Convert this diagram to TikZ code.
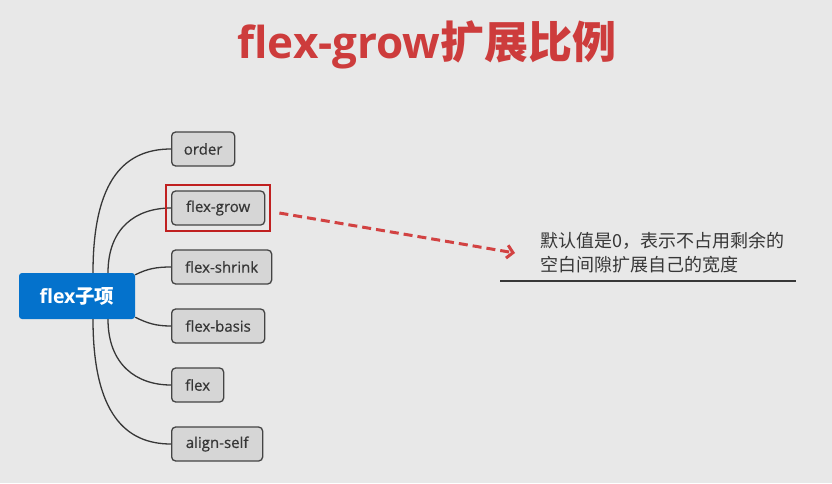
\documentclass[tikz,border=0pt]{standalone}
\usepackage{fontspec}
\setmainfont{Open Sans}
\newfontfamily\cjk{Noto Sans CJK SC}
\newfontfamily\itemfont[FakeBold=0.6]{Open Sans}
\usetikzlibrary{fit,arrows.meta}
\definecolor{pagegray}{RGB}{232,232,232}
\definecolor{titlered}{RGB}{205,60,60}
\definecolor{hintred}{RGB}{210,66,66}
\definecolor{framered}{RGB}{192,32,32}
\definecolor{rootblue}{RGB}{4,114,204}
\definecolor{itemgray}{RGB}{214,214,214}
\definecolor{itemline}{RGB}{68,68,68}
\definecolor{inktext}{RGB}{55,55,55}
\tikzset{
	rootbox/.style={fill=rootblue, rounded corners=3pt, minimum width=116pt, minimum height=46pt, inner sep=0pt, text=white, font=\fontsize{19.5pt}{22pt}\selectfont\bfseries},
	itembox/.style={draw=itemline, fill=itemgray, line width=1.3pt, rounded corners=4pt, minimum height=34pt, inner sep=0pt, anchor=west, text=inktext, font=\itemfont\fontsize{15pt}{17pt}\selectfont},
	branch/.style={draw=inktext, line width=1.3pt},
	markbox/.style={draw=framered, line width=2.2pt, inner sep=5pt},
	hint/.style={draw=hintred, line width=3pt, dash pattern=on 9pt off 5pt, -{Straight Barb[length=6pt,width=13pt]}},
}

\begin{document}
\begin{tikzpicture}[x=1pt,y=-1pt]
			%%%%% START %%%%%
			
			\useasboundingbox[fill=pagegray] (0,0) rectangle (832,483);
			
			\node[text=titlered, font=\fontsize{44pt}{48pt}\selectfont] (title) at (427,45) {{\bfseries flex-grow}{\cjk\bfseries 扩展比例}};
			
			\node[rootbox] (root) at (77,296) {flex{\cjk\bfseries 子项}};
			
			\node[itembox, minimum width=63pt] (order) at (171,149) {order};
			\node[itembox, minimum width=93pt] (grow) at (171,208) {flex-grow};
			\node[itembox, minimum width=100pt] (shrink) at (171,267) {flex-shrink};
			\node[itembox, minimum width=93pt] (basis) at (171,326) {flex-basis};
			\node[itembox, minimum width=52pt] (flex) at (171,385) {flex};
			\node[itembox, minimum width=91pt] (self) at (171,444) {align-self};
			
			\draw[branch] ([xshift=16pt]root.north) .. controls +(0,-95) and +(-45,0) .. (order.west);
			\draw[branch] ([xshift=31pt]root.north) .. controls +(0,-45) and +(-35,0) .. (grow.west);
			\draw[branch] ([yshift=-2pt]root.north east) .. controls +(12,-6) and +(-15,0) .. (shrink.west);
			\draw[branch] ([yshift=2pt]root.south east) .. controls +(12,6) and +(-15,0) .. (basis.west);
			\draw[branch] ([xshift=31pt]root.south) .. controls +(0,45) and +(-35,0) .. (flex.west);
			\draw[branch] ([xshift=16pt]root.south) .. controls +(0,95) and +(-45,0) .. (self.west);
			
			\node[markbox, fit=(grow)] (growmark) {};
			
			\node[anchor=west, align=left, inner sep=0pt, text=inktext, font=\cjk\fontsize{18pt}{24pt}\selectfont] (note) at (540,253) {默认值是0，表示不占用剩余的\\空白间隙扩展自己的宽度};
			
			\draw[hint] ([shift={(8,5)}]growmark.east) -- ([xshift=-25pt]note.west);
			
			\draw[draw=inktext, line width=1.5pt] (500,281) -- (796,281);
			
			%%%%% END %%%%%
		\end{tikzpicture}
\end{document}
